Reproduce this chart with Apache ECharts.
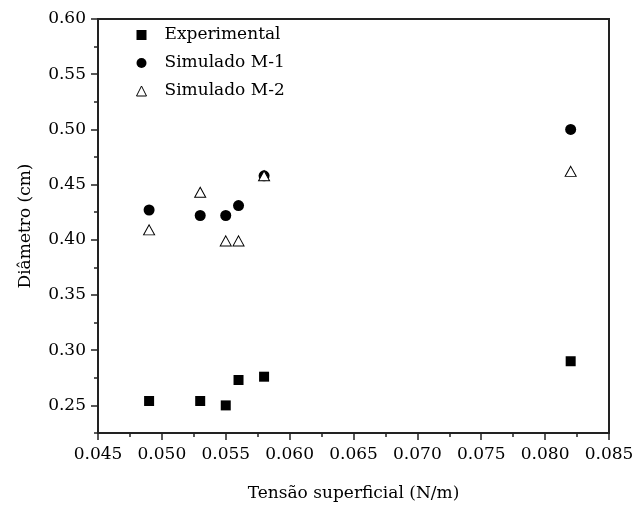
<!DOCTYPE html>
<html>
<head>
<meta charset="utf-8">
<script src="https://cdn.jsdelivr.net/npm/echarts@6/dist/echarts.min.js"></script>
<style>
  html, body { margin: 0; padding: 0; background: #fff; }
  #box { width: 644px; height: 507px; }
</style>
</head>
<body>
<div id="box"></div>
<script>
const tensao = [0.049, 0.053, 0.055, 0.056, 0.058, 0.082];
const experimental = [0.254, 0.254, 0.250, 0.273, 0.276, 0.290];
const simuladoM1 = [0.427, 0.422, 0.422, 0.431, 0.458, 0.500];
const simuladoM2 = [0.409, 0.443, 0.399, 0.399, 0.458, 0.462];

const yMajorTicks = [0.25, 0.30, 0.35, 0.40, 0.45, 0.50, 0.55, 0.60];
const yMinorTicks = [0.225, 0.275, 0.325, 0.375, 0.425, 0.475, 0.525, 0.575];

const font = 'DejaVu Serif';
const ink = '#222';

function pairs(ys) {
  const out = [];
  for (let i = 0; i < tensao.length; i++) {
    out.push([tensao[i], ys[i]]);
  }
  return out;
}

const solid = { color: '#000', opacity: 1 };
const hollow = { color: '#fff', borderColor: '#000', borderWidth: 1, opacity: 1 };

const graph = echarts.init(document.getElementById('box'));
graph.setOption({
  animation: false,
  grid: {
    left: 98, right: 35, top: 19, bottom: 73,
    show: true,
    borderColor: ink,
    borderWidth: 2
  },
  legend: {
    orient: 'vertical',
    left: 131,
    top: 21,
    itemWidth: 10,
    itemHeight: 10,
    itemGap: 10,
    textStyle: { fontFamily: font, fontSize: 17, color: '#000', lineHeight: 18, padding: [0, 0, 0, 13] },
    data: [
      { name: 'Experimental', icon: 'rect', itemStyle: solid },
      { name: 'Simulado M-1', icon: 'circle', itemStyle: solid },
      { name: 'Simulado M-2', icon: 'triangle', itemStyle: hollow }
    ]
  },
  xAxis: {
    type: 'value',
    min: 0.045,
    max: 0.085,
    interval: 0.005,
    name: 'Tensão superficial (N/m)',
    nameLocation: 'middle',
    nameGap: 52,
    nameTextStyle: { fontFamily: font, fontSize: 17, color: '#000' },
    splitLine: { show: false },
    axisLine: { lineStyle: { color: ink, width: 2 } },
    axisTick: { length: 7, lineStyle: { color: ink, width: 1.5 } },
    minorTick: { show: true, splitNumber: 2, length: 4, lineStyle: { color: ink, width: 1.5 } },
    axisLabel: {
      margin: 13,
      fontFamily: font, fontSize: 17, color: '#000',
      formatter: v => v.toFixed(3)
    }
  },
  yAxis: [
    {
      type: 'value',
      min: 0.225,
      max: 0.6,
      name: 'Diâmetro (cm)',
      nameLocation: 'middle',
      nameGap: 64,
      nameTextStyle: { fontFamily: font, fontSize: 17, color: '#000' },
      splitLine: { show: false },
      axisLine: { lineStyle: { color: ink, width: 2 } },
      axisTick: { length: 7, customValues: yMajorTicks, lineStyle: { color: ink, width: 1.5 } },
      axisLabel: {
        margin: 12,
        customValues: yMajorTicks,
        fontFamily: font, fontSize: 17, color: '#000',
        formatter: v => v.toFixed(2)
      }
    },
    {
      type: 'value',
      min: 0.225,
      max: 0.6,
      position: 'left',
      splitLine: { show: false },
      axisLine: { show: false },
      axisTick: { length: 4, customValues: yMinorTicks, lineStyle: { color: ink, width: 1.5 } },
      axisLabel: { show: false }
    }
  ],
  series: [
    {
      name: 'Experimental',
      type: 'scatter',
      symbol: 'rect',
      symbolSize: 10,
      itemStyle: solid,
      data: pairs(experimental)
    },
    {
      name: 'Simulado M-1',
      type: 'scatter',
      symbol: 'circle',
      symbolSize: 11,
      itemStyle: solid,
      data: pairs(simuladoM1)
    },
    {
      name: 'Simulado M-2',
      type: 'scatter',
      symbol: 'triangle',
      symbolSize: [11, 10],
      itemStyle: hollow,
      data: pairs(simuladoM2)
    }
  ]
});
</script>
</body>
</html>
